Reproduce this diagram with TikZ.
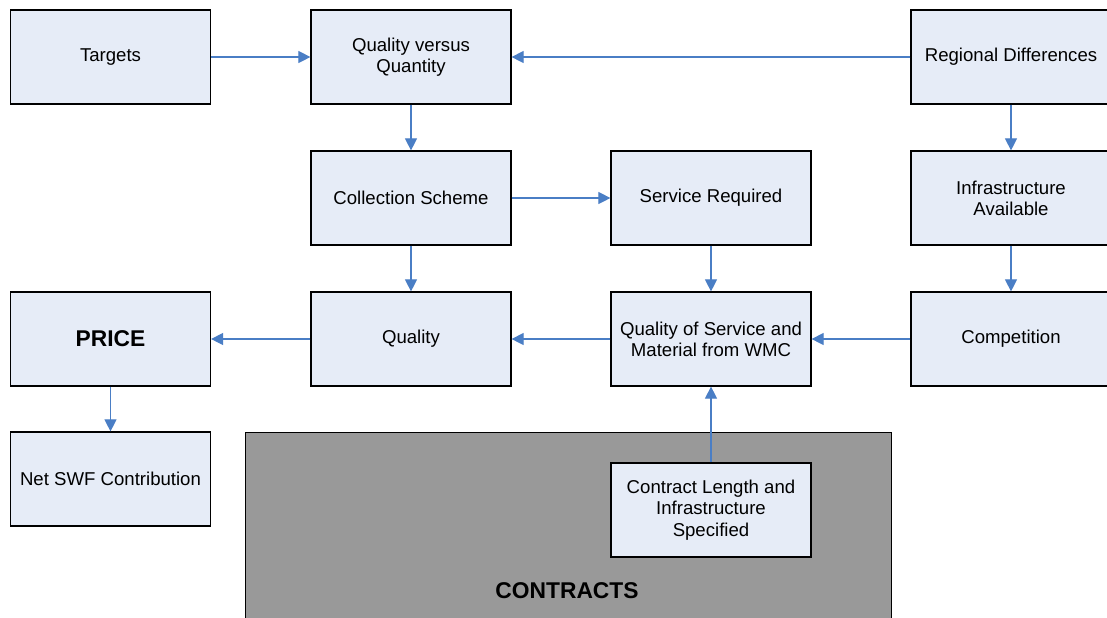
\documentclass[tikz,border=0pt]{standalone}
\usepackage{fontspec}
\setmainfont{Liberation Sans}
\usetikzlibrary{arrows.meta}
\definecolor{boxfill}{HTML}{E6ECF7}
\definecolor{arrowblue}{HTML}{4A7EC5}
\definecolor{contractgray}{HTML}{999999}
\tikzset{
  flowbox/.style={draw=black, line width=0.6pt, fill=boxfill, minimum width=100pt, minimum height=47pt,
    inner sep=2pt, align=center, font=\fontsize{9.3}{10.6}\selectfont},
  arr/.style={draw=arrowblue, line width=0.55pt, -{Triangle[length=6pt,width=6pt]}},
  boldlabel/.style={font=\fontsize{11.4}{13}\selectfont\bfseries}
}
\begin{document}
\begin{tikzpicture}[x=0.5pt,y=-0.5pt]
\useasboundingbox (0,0) rectangle (1107,617);
\clip (0,0) rectangle (1107,617);
\fill[white] (0,0) rectangle (1107,617);
% contracts region
\node[draw=black, line width=0.6pt, fill=contractgray, minimum width=323pt, minimum height=100pt, inner sep=0pt, anchor=north west] (contracts) at (245,432) {};
\node[boldlabel] (contractslabel) at (567,591) {CONTRACTS};
% boxes
\node[flowbox] (targets) at (110.5,57) {Targets};
\node[flowbox] (qvq) at (411,57) {Quality versus\\Quantity};
\node[flowbox] (regional) at (1011,57) {Regional Differences};
\node[flowbox] (collection) at (411,198) {Collection Scheme};
\node[flowbox] (service) at (711,198) {Service Required};
\node[flowbox] (infra) at (1011,198) {Infrastructure\\Available};
\node[flowbox, font=\fontsize{11.4}{13}\selectfont\bfseries] (price) at (110.5,339) {PRICE};
\node[flowbox] (quality) at (411,339) {Quality};
\node[flowbox] (qos) at (711,339) {Quality of Service and\\Material from WMC};
\node[flowbox] (competition) at (1011,339) {Competition};
\node[flowbox] (netswf) at (110.5,479) {Net SWF Contribution};
\node[flowbox] (contractlen) at (711,510) {Contract Length and\\Infrastructure\\Specified};
% connectors
\draw[arr] (targets) -- (qvq);
\draw[arr] (regional) -- (qvq);
\draw[arr] (qvq) -- (collection);
\draw[arr] (collection) -- (service);
\draw[arr] (regional) -- (infra);
\draw[arr] (infra) -- (competition);
\draw[arr] (service) -- (qos);
\draw[arr] (collection) -- (quality);
\draw[arr] (quality) -- (price);
\draw[arr] (qos) -- (quality);
\draw[arr] (competition) -- (qos);
\draw[arr] (price) -- (netswf);
\draw[arr] (contractlen) -- (qos);
\end{tikzpicture}
\end{document}
